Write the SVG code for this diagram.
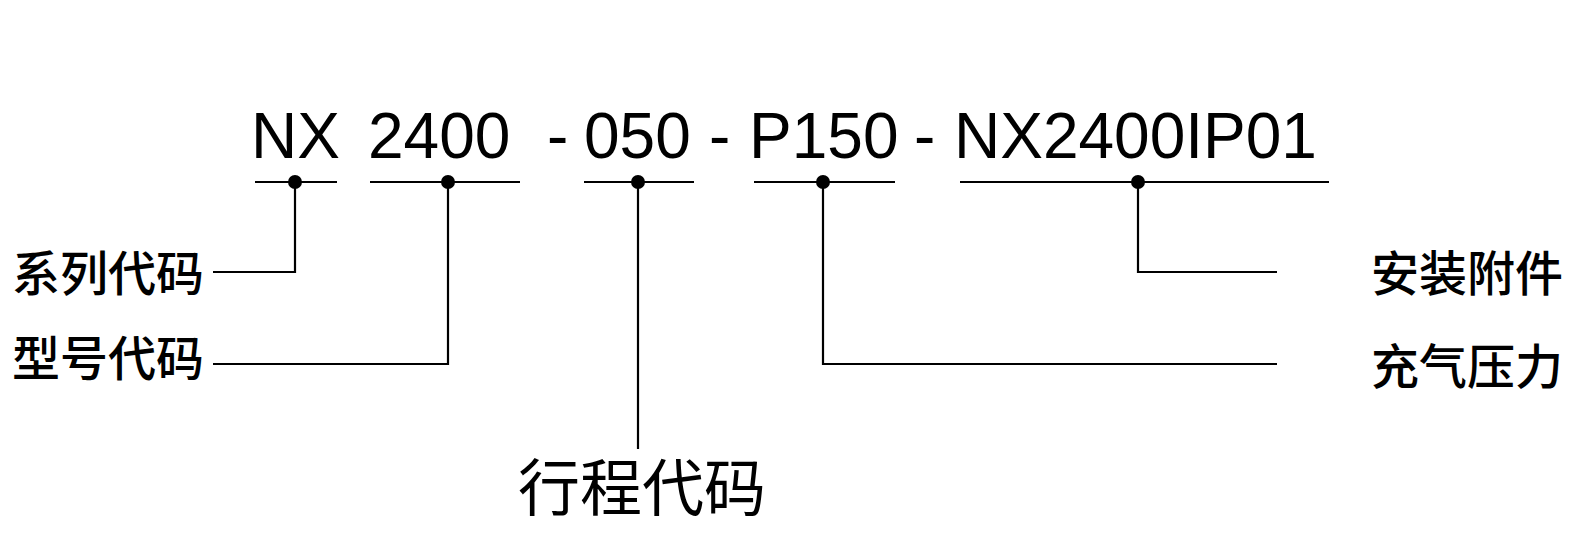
<svg xmlns="http://www.w3.org/2000/svg" width="1574" height="541" viewBox="0 0 1574 541">
<style>
.code{font-family:"Liberation Sans",Arial,sans-serif;font-size:64px;fill:#000}
.lbl{font-family:"Noto Sans CJK SC","Noto Sans",sans-serif;font-size:48px;font-weight:500;fill:#000}
.big{font-family:"Noto Sans CJK SC","Noto Sans",sans-serif;font-size:62px;font-weight:400;fill:#000}
.ln{fill:none;stroke:#000;stroke-width:2.2}
.dot{fill:#000}
</style>
<rect width="1574" height="541" fill="#fff"/>
<g id="code">
<text class="code" x="251" y="158">NX</text>
<text class="code" x="368" y="158">2400</text>
<text class="code" x="547" y="158">-</text>
<text class="code" x="584" y="158">050</text>
<text class="code" x="709" y="158">-</text>
<text class="code" x="749" y="158">P150</text>
<text class="code" x="914" y="158">-</text>
<text class="code" x="954" y="158">NX2400IP01</text>
</g>
<g id="connectors">
<path class="ln" d="M255 182H337M370 182H520M584 182H694M754 182H895M960 182H1329"/>
<path class="ln" d="M295 182V272H213"/>
<path class="ln" d="M448 182V364H213"/>
<path class="ln" d="M638 182V449"/>
<path class="ln" d="M823 182V364H1277"/>
<path class="ln" d="M1138 182V272H1277"/>
<circle class="dot" cx="295" cy="182" r="7"/>
<circle class="dot" cx="448" cy="182" r="7"/>
<circle class="dot" cx="638" cy="182" r="7"/>
<circle class="dot" cx="823" cy="182" r="7"/>
<circle class="dot" cx="1138" cy="182" r="7"/>
</g>
<g id="n-series"><text class="lbl" x="12" y="291">系列代码</text></g>
<g id="n-model"><text class="lbl" x="12" y="376">型号代码</text></g>
<g id="n-stroke"><text class="big" x="518" y="511">行程代码</text></g>
<g id="n-accessory"><text class="lbl" x="1371" y="291">安装附件</text></g>
<g id="n-pressure"><text class="lbl" x="1371" y="384">充气压力</text></g>
</svg>
